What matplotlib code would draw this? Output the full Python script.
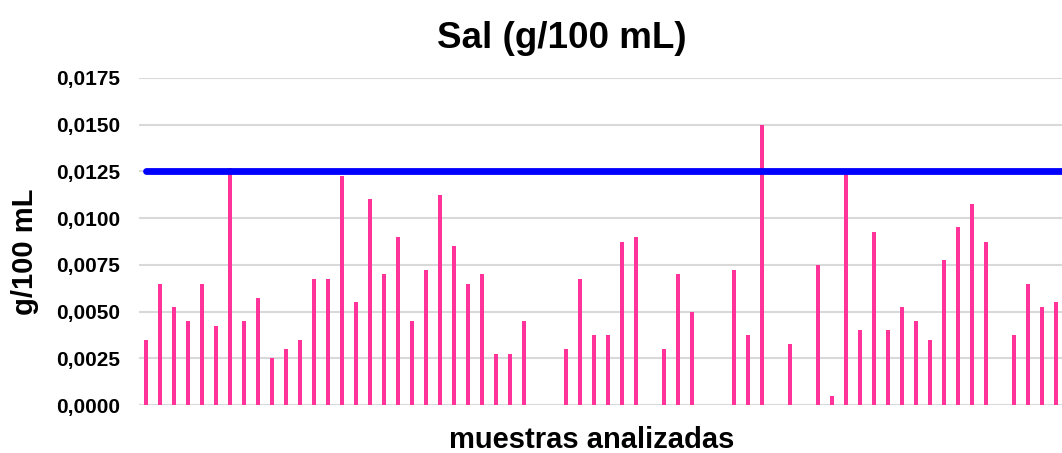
import matplotlib
matplotlib.use("Agg")
import matplotlib.pyplot as plt
import numpy as np

plt.rcParams['font.family'] = ['Liberation Sans', 'DejaVu Sans']

title = "Sal (g/100 mL)"
x_label = "muestras analizadas"
y_label = "g/100 mL"

values = [0.0035, 0.0065, 0.00525, 0.0045, 0.0065, 0.00425, 0.0127, 0.0045,
          0.00575, 0.0025, 0.003, 0.0035, 0.00675, 0.00675, 0.01225, 0.0055,
          0.011, 0.007, 0.009, 0.0045, 0.00725, 0.01125, 0.0085, 0.0065,
          0.007, 0.00275, 0.00275, 0.0045, 0.0, 0.0, 0.003, 0.00675,
          0.00375, 0.00375, 0.00875, 0.009, 0.0, 0.003, 0.007, 0.005,
          0.0, 0.0, 0.00725, 0.00375, 0.015, 0.0, 0.00325, 0.0,
          0.0075, 0.0005, 0.0124, 0.004, 0.00925, 0.004, 0.00525, 0.0045,
          0.0035, 0.00775, 0.0095, 0.01075, 0.00875, 0.0, 0.00375, 0.0065,
          0.00525, 0.0055]
limit = 0.0125

y_ticks = [0.0, 0.0025, 0.005, 0.0075, 0.01, 0.0125, 0.015, 0.0175]
y_tick_labels = ["0,0000", "0,0025", "0,0050", "0,0075", "0,0100",
                 "0,0125", "0,0150", "0,0175"]

W, H = 1062, 453
fig = plt.figure(figsize=(W / 100, H / 100), dpi=100)
ax = fig.add_axes([139 / W, 48 / H, (W - 139) / W, 327 / H])

x = np.arange(len(values))
ax.bar(x, values, width=0.29, color='#FF3399', zorder=2)
lx = np.arange(len(values) + 2)
ax.plot(lx, [limit] * len(lx), color='#0000FF', lw=4.9,
        solid_capstyle='round', zorder=3)

ax.set_xlim(-0.5, -0.5 + (W - 139) / 14)
ax.set_ylim(0, 0.0175)
ax.set_yticks(y_ticks)
ax.set_yticklabels(y_tick_labels, fontsize=15, fontweight='bold')
ax.tick_params(axis='y', length=0, pad=13.7)
ax.set_xticks([])
for s in ax.spines.values():
    s.set_visible(False)
ax.grid(axis='y', color='#d9d9d9', lw=1.5, zorder=0)
ax.set_axisbelow(True)

fig.text(562 / W, 1 - 38 / H, title, ha='center', va='center',
         fontsize=26.5, fontweight='bold')
fig.text(592 / W, 1 - 440 / H, x_label, ha='center', va='center',
         fontsize=21, fontweight='bold')
fig.text(25 / W, 1 - 252 / H, y_label, ha='center', va='center',
         rotation=90, fontsize=21, fontweight='bold')

fig.savefig("out.png", dpi=100)
